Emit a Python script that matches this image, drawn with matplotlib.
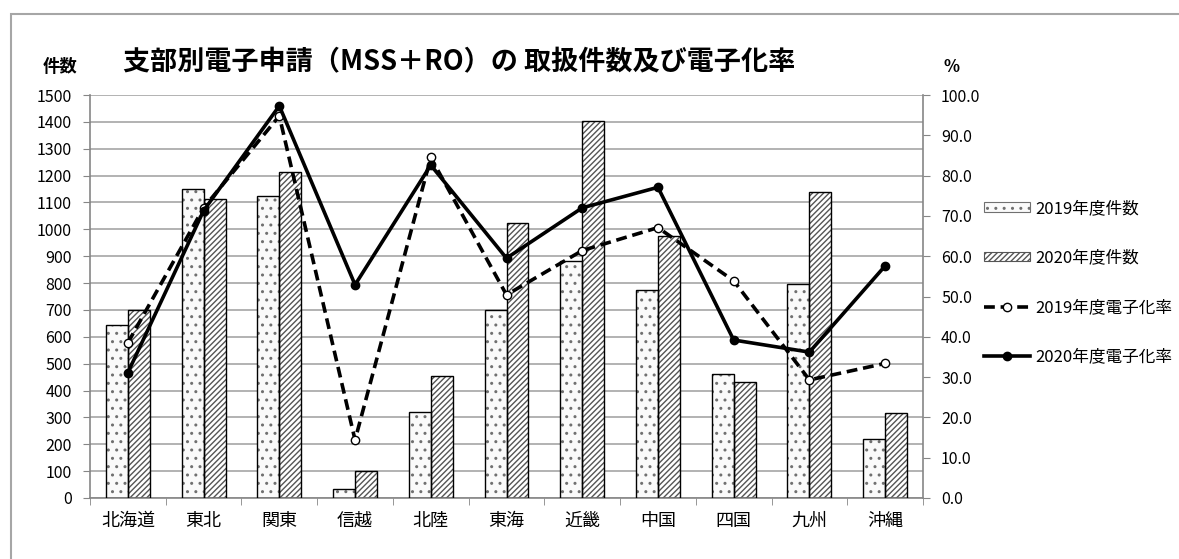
import numpy as np
import matplotlib.pyplot as plt
from matplotlib.patches import Rectangle
from matplotlib.lines import Line2D
from matplotlib.patches import Patch

plt.rcParams['font.family'] = ['Noto Sans CJK JP', 'DejaVu Sans']
plt.rcParams['hatch.linewidth'] = 1.0

# branch data
branches = ["北海道", "東北", "関東", "信越", "北陸", "東海", "近畿", "中国", "四国", "九州", "沖縄"]
count_2019 = [645, 1150, 1125, 35, 320, 700, 883, 776, 460, 797, 218]
count_2020 = [700, 1112, 1215, 100, 453, 1025, 1405, 974, 432, 1138, 316]
rate_2019 = [38.5, 72.0, 94.8, 14.4, 84.5, 50.4, 61.4, 67.1, 53.9, 29.3, 33.4]
rate_2020 = [31.1, 71.3, 97.3, 52.9, 82.6, 59.5, 72.0, 77.1, 39.2, 36.2, 57.6]

left_ticks = np.arange(0, 1501, 100)
right_ticks = np.arange(0, 101, 10)

fig = plt.figure(figsize=(11.79, 5.59), dpi=100)
# outer chart frame
fig.patches.append(Rectangle((11 / 1179, -0.1), 1.2, 1.1 - 14 / 559, transform=fig.transFigure,
                             fill=False, edgecolor="#a6a6a6", linewidth=1.5))

ax = fig.add_axes([90 / 1179, 1 - 498 / 559, 833 / 1179, 403 / 559])
x = np.arange(len(branches))
w = 0.29

# bars: hatch layer first, then black outline on top
ax.bar(x - w / 2, count_2019, w, facecolor="#fafafa", edgecolor="#707070", hatch="..", linewidth=0, zorder=2)
ax.bar(x - w / 2, count_2019, w, facecolor="none", edgecolor="black", linewidth=1.0, zorder=3)
ax.bar(x + w / 2, count_2020, w, facecolor="white", edgecolor="#555555", hatch="//////", linewidth=0, zorder=2)
ax.bar(x + w / 2, count_2020, w, facecolor="none", edgecolor="black", linewidth=1.0, zorder=3)

ax.set_xlim(-0.5, len(branches) - 0.5)
ax.set_ylim(0, 1500)
ax.set_yticks(left_ticks)
ax.yaxis.grid(True, color="#a6a6a6", linewidth=1.2, zorder=0)
ax.set_axisbelow(True)
ax.set_xticks(x)
ax.set_xticklabels(branches, fontsize=13)
ax.set_xticks(np.arange(-0.5, len(branches)), minor=True)
ax.tick_params(axis="x", which="major", length=0, pad=10)
ax.tick_params(axis="x", which="minor", length=5, color="#868686")
ax.tick_params(axis="y", length=5, color="#868686", labelsize=11.5, pad=8)
for s in ["top", "right"]:
    ax.spines[s].set_visible(False)
for s in ["left", "bottom"]:
    ax.spines[s].set_color("#868686")
    ax.spines[s].set_linewidth(1.2)

ax2 = ax.twinx()
ax2.plot(x, rate_2019, color="black", linestyle=(0, (3, 1.6)), linewidth=2.6,
         marker="o", markersize=6, markerfacecolor="white", markeredgecolor="black", markeredgewidth=1.0, zorder=4)
ax2.plot(x, rate_2020, color="black", linestyle="-", linewidth=2.6,
         marker="o", markersize=6, markerfacecolor="black", markeredgecolor="black", zorder=5)
ax2.set_ylim(0, 100)
ax2.set_yticks(right_ticks)
ax2.set_yticklabels([f"{v:.1f}" for v in right_ticks])
ax2.tick_params(axis="y", length=5, color="#868686", labelsize=11.5, pad=8)
for s in ["top", "left", "bottom"]:
    ax2.spines[s].set_visible(False)
ax2.spines["right"].set_color("#868686")
ax2.spines["right"].set_linewidth(1.2)

fig.text(459 / 1179, 1 - 62 / 559, "支部別電子申請（MSS＋RO）の 取扱件数及び電子化率",
         ha="center", va="center", fontsize=19.5, fontweight="bold")
fig.text(60 / 1179, 1 - 67 / 559, "件数", ha="center", va="center", fontsize=12.5, fontweight="bold")
fig.text(952 / 1179, 1 - 67 / 559, "%", ha="center", va="center", fontsize=12, fontweight="bold")

handles = [
    Patch(facecolor="#fafafa", edgecolor="#707070", hatch="..", linewidth=0.8),
    Patch(facecolor="white", edgecolor="#555555", hatch="//////", linewidth=0.8),
    Line2D([], [], color="black", linestyle=(0, (3, 1.6)), linewidth=2.6, marker="o", markersize=6,
           markerfacecolor="white", markeredgecolor="black"),
    Line2D([], [], color="black", linewidth=2.6, marker="o", markersize=6, markerfacecolor="black"),
]
labels = ["2019年度件数", "2020年度件数", "2019年度電子化率", "2020年度電子化率"]
fig.legend(handles, labels, loc="upper left", bbox_to_anchor=(984 / 1179, 1 - 200 / 559),
           frameon=False, fontsize=12, labelspacing=1.95, handlelength=2.75, handleheight=0.5,
           handletextpad=0.3, borderaxespad=0, borderpad=0)

fig.savefig("out.png", dpi=100)
